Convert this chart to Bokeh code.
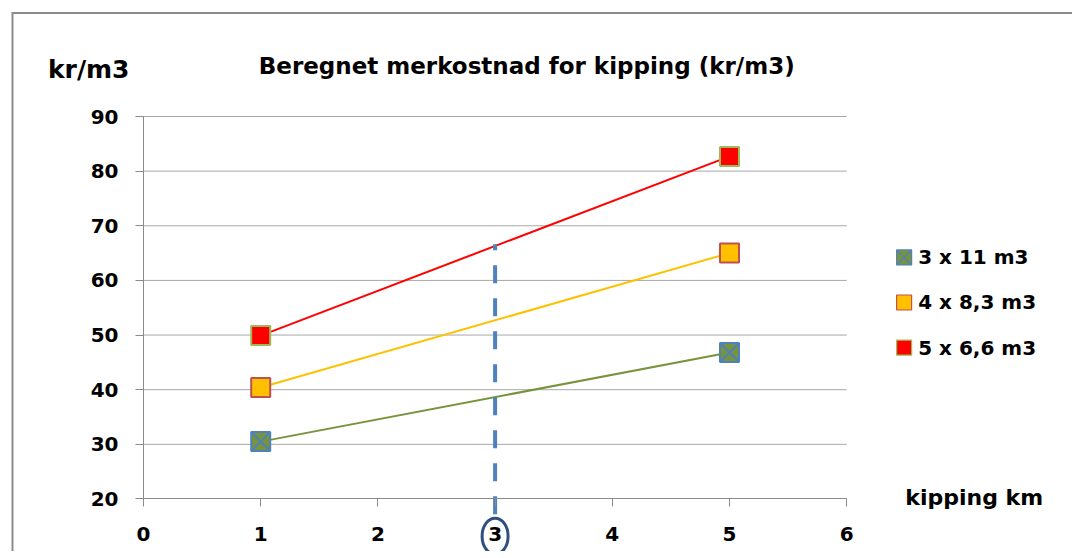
from bokeh.plotting import figure
from bokeh.models import Range1d, FixedTicker, ColumnDataSource
from bokeh.core.properties import value
from bokeh.embed import file_html
from bokeh.resources import INLINE

# ---------------- data ----------------
distance_km = [1, 5]
series_names = ["3 x 11 m3", "4 x 8,3 m3", "5 x 6,6 m3"]
cost_3x11 = [30.5, 46.8]
cost_4x83 = [40.4, 65.0]
cost_5x66 = [49.9, 82.7]
x_ticks = [0, 1, 2, 3, 4, 5, 6]
y_ticks = [20, 30, 40, 50, 60, 70, 80, 90]
title_text = "Beregnet merkostnad for kipping (kr/m3)"
y_title = "kr/m3"
x_title = "kipping km"
highlight_km = 3
highlight_top = 66.6
highlight_bottom = 17.2
highlight_label_y = 13.2

# ---------------- layout ----------------
W, H = 1072, 551
CL, CT = 0.5, 1.0          # canvas origin on the screenshot
PX0, PXU = 143.5, 117.2    # screen x of km 0, px per km
PY90, PYU = 117.0, 5.464   # screen y of 90, px per kr
x_start = (CL - PX0) / PXU
x_end = (CL + W - PX0) / PXU
y_end = 90 + (PY90 - CT) / PYU
y_start = y_end - H / PYU
border_x = (12.5 - PX0) / PXU
border_y = 90 + (PY90 - 13.5) / PYU

FONT = value("DejaVu Sans")

p = figure(width=W, height=H, output_backend="svg", toolbar_location=None,
           x_range=Range1d(x_start, x_end), y_range=Range1d(y_start, y_end),
           min_border=0, background_fill_color="white", border_fill_color="white")
p.outline_line_color = None

# chart-area border (left and top edges of the chart box)
p.line([border_x, border_x, x_end + 1], [y_start - 5, border_y, border_y],
       line_color="#8c8c8c", line_width=2, line_join="miter")

# axes
for ax in p.xaxis:
    ax.fixed_location = 20
    ax.bounds = (0, 6)
    ax.ticker = FixedTicker(ticks=x_ticks)
for ax in p.yaxis:
    ax.fixed_location = 0
    ax.bounds = (20, 90)
    ax.ticker = FixedTicker(ticks=y_ticks)
for ax in list(p.xaxis) + list(p.yaxis):
    ax.axis_line_color = "#8a8a8a"
    ax.axis_line_width = 1
    ax.major_tick_line_color = "#8a8a8a"
    ax.major_tick_out = 8
    ax.major_tick_in = 0
    ax.minor_tick_line_color = None
    ax.major_label_text_font = "DejaVu Sans"
    ax.major_label_text_font_style = "bold"
    ax.major_label_text_font_size = "20px"
    ax.major_label_text_color = "#000000"
p.xaxis.major_label_standoff = 20
p.yaxis.major_label_standoff = 17

p.xgrid.visible = False
p.ygrid.visible = False
# horizontal gridlines, only across the 0..6 km span
grid_y = y_ticks[1:]
p.segment(x0=[x_ticks[0]] * len(grid_y), x1=[x_ticks[-1]] * len(grid_y), y0=grid_y, y1=grid_y,
          line_color="#a8a8a8", line_width=1)

# series lines
colors_line = ["#77933C", "#FFC000", "#FF0000"]
colors_fill = ["#77933C", "#FFC000", "#FF0000"]
colors_edge = ["#4F81BD", "#C0504D", "#9BBB59"]
markers = ["square_x", "square", "square"]
all_series = [cost_3x11, cost_4x83, cost_5x66]

for ys, lc in zip(all_series, colors_line):
    p.line(distance_km, ys, line_color=lc, line_width=2)

# highlight dashed line at 3 km
p.line([highlight_km, highlight_km], [highlight_bottom, highlight_top],
       line_color="#4F81BD", line_width=4, line_dash="18 15", line_cap="butt")
p.ellipse(x=[highlight_km], y=[highlight_label_y], width=26, height=36,
          width_units="screen", height_units="screen",
          fill_color=None, line_color="#2E5080", line_width=3)

for ys, fc, ec, mk in zip(all_series, colors_fill, colors_edge, markers):
    p.scatter(distance_km, ys, marker=mk, size=19, fill_color=fc,
              line_color=ec, line_width=2)

# titles
p.text(x=[3.27], y=[99.2], text=[title_text], text_font=FONT, text_font_style="bold",
       text_font_size="23px", text_align="center", text_baseline="middle", text_color="#000000")
p.text(x=[-0.815], y=[98.6], text=[y_title], text_font=FONT, text_font_style="bold",
       text_font_size="25px", text_align="left", text_baseline="middle", text_color="#000000")
p.text(x=[6.50], y=[20.3], text=[x_title], text_font=FONT, text_font_style="bold",
       text_font_size="22px", text_align="left", text_baseline="middle", text_color="#000000")

# legend
leg_y = [64.2, 55.96, 47.7]
leg = ColumnDataSource(dict(x=[6.49] * 3, tx=[6.61] * 3, y=leg_y, name=series_names,
                            fc=colors_fill, ec=colors_edge, mk=markers))
p.scatter(x="x", y="y", marker="mk", size=15, fill_color="fc", line_color="ec",
          line_width=1.2, source=leg)
p.text(x="tx", y="y", text="name", source=leg, text_font=FONT, text_font_style="bold",
       text_font_size="20px", text_align="left", text_baseline="middle", text_color="#000000")

open("out.html", "w").write(file_html(p, INLINE))
